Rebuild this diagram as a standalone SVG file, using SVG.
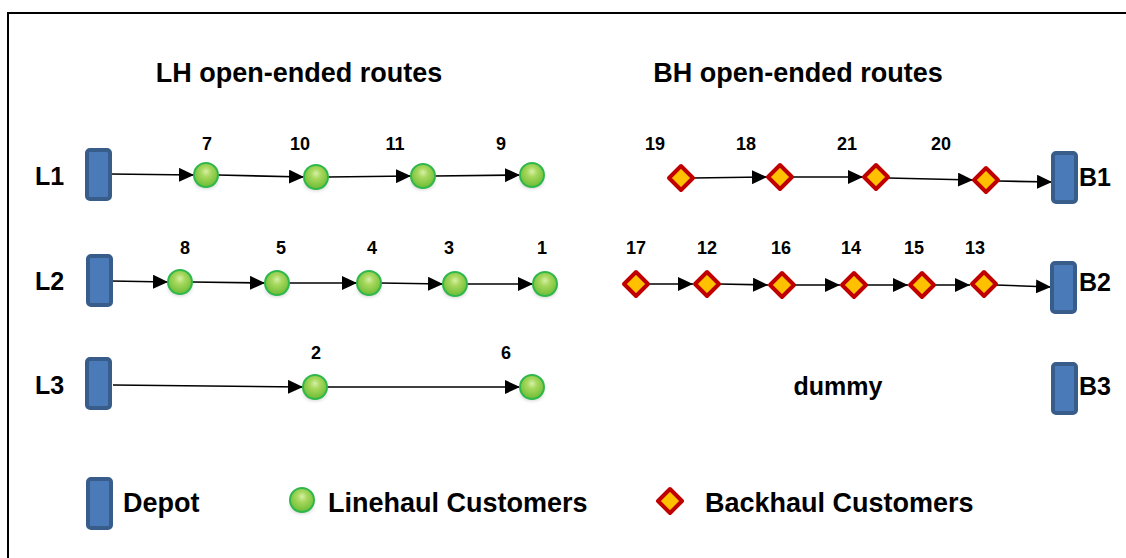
<svg xmlns="http://www.w3.org/2000/svg" width="1126" height="558" viewBox="0 0 1126 558">
<defs>
<marker id="ah" markerUnits="userSpaceOnUse" markerWidth="16" markerHeight="14" refX="15" refY="7" orient="auto">
<path d="M0,0 L15,7 L0,14 Z" fill="#000"/>
</marker>
<radialGradient id="g" cx="0.5" cy="0.4" r="0.6" fx="0.5" fy="0.35">
<stop offset="0" stop-color="#d6f0a8"/>
<stop offset="0.35" stop-color="#a8d85e"/>
<stop offset="1" stop-color="#6cbc34"/>
</radialGradient>
<filter id="sh" x="-50%" y="-50%" width="200%" height="200%">
<feGaussianBlur stdDeviation="2"/>
</filter>
<g id="cust">
<ellipse cx="0" cy="6" rx="11" ry="7" fill="#000" opacity="0.25" filter="url(#sh)"/>
<circle r="12" fill="url(#g)" stroke="#2eb84c" stroke-width="2"/>
</g>
<g id="bh">
<path d="M0,-12 L12,0 L0,12 L-12,0 Z" fill="#ffc000" stroke="#c00000" stroke-width="4" stroke-linejoin="round"/>
</g>
<g id="depot">
<rect x="0" y="0" width="23" height="49" rx="3" fill="#4a7ab8" stroke="#385d8a" stroke-width="4"/>
</g>
</defs>
<style>
.t{font-family:"Liberation Sans",Arial,sans-serif;font-weight:bold;fill:#000}
.title{font-size:27px;text-anchor:middle}
.row{font-size:25px}
.num{font-size:18px;text-anchor:middle}
.leg{font-size:27px}
.c{stroke:#000;stroke-width:1.6;fill:none;marker-end:url(#ah)}
</style>
<rect x="8" y="13" width="1130" height="560" fill="#fff" stroke="#000" stroke-width="2"/>

<text class="t title" x="299" y="82">LH open-ended routes</text>
<text class="t title" x="798" y="82">BH open-ended routes</text>

<g id="row-labels">
<text class="t row" x="35" y="185">L1</text>
<text class="t row" x="35" y="290">L2</text>
<text class="t row" x="35" y="394">L3</text>
<text class="t row" x="1079" y="186">B1</text>
<text class="t row" x="1079" y="291">B2</text>
<text class="t row" x="1079" y="395">B3</text>
<text class="t row" x="838" y="395" text-anchor="middle">dummy</text>
</g>

<g id="connectors">
<path class="c" d="M110,174 L194,175"/>
<path class="c" d="M218,175 L304,177"/>
<path class="c" d="M328,177 L411,176"/>
<path class="c" d="M435,176 L520,175"/>
<path class="c" d="M111,281 L168,282"/>
<path class="c" d="M192,282 L265,283"/>
<path class="c" d="M289,283 L357,283"/>
<path class="c" d="M381,283 L443,284"/>
<path class="c" d="M467,284 L533,284"/>
<path class="c" d="M113,385 L303,387"/>
<path class="c" d="M327,387 L520,387"/>
<path class="c" d="M693,178 L767,177"/>
<path class="c" d="M792,177 L863,177"/>
<path class="c" d="M888,178 L973,180"/>
<path class="c" d="M998,181 L1052,182"/>
<path class="c" d="M648,284 L693,284"/>
<path class="c" d="M719,284 L768,285"/>
<path class="c" d="M794,285 L840,285"/>
<path class="c" d="M866,285 L908,285"/>
<path class="c" d="M934,285 L970,285"/>
<path class="c" d="M996,285 L1051,287"/>
</g>

<g id="L1"><use href="#depot" x="87" y="150"/></g>
<g id="L2"><use href="#depot" x="88" y="256"/></g>
<g id="L3"><use href="#depot" x="87" y="359"/></g>
<g id="B1"><use href="#depot" x="1053" y="153"/></g>
<g id="B2"><use href="#depot" x="1052" y="263"/></g>
<g id="B3"><use href="#depot" x="1053" y="364"/></g>

<g id="n7"><use href="#cust" x="206" y="175"/><text class="t num" x="207" y="150">7</text></g>
<g id="n10"><use href="#cust" x="316" y="177"/><text class="t num" x="300" y="150">10</text></g>
<g id="n11"><use href="#cust" x="423" y="176"/><text class="t num" x="395" y="150">11</text></g>
<g id="n9"><use href="#cust" x="532" y="175"/><text class="t num" x="501" y="150">9</text></g>

<g id="n8"><use href="#cust" x="180" y="282"/><text class="t num" x="185" y="254">8</text></g>
<g id="n5"><use href="#cust" x="277" y="283"/><text class="t num" x="281" y="254">5</text></g>
<g id="n4"><use href="#cust" x="369" y="283"/><text class="t num" x="372" y="254">4</text></g>
<g id="n3"><use href="#cust" x="455" y="284"/><text class="t num" x="449" y="254">3</text></g>
<g id="n1"><use href="#cust" x="545" y="284"/><text class="t num" x="542" y="254">1</text></g>

<g id="n2"><use href="#cust" x="315" y="387"/><text class="t num" x="316" y="359">2</text></g>
<g id="n6"><use href="#cust" x="532" y="387"/><text class="t num" x="506" y="359">6</text></g>

<g id="n19"><use href="#bh" x="681" y="178"/><text class="t num" x="655" y="150">19</text></g>
<g id="n18"><use href="#bh" x="780" y="177"/><text class="t num" x="746" y="150">18</text></g>
<g id="n21"><use href="#bh" x="876" y="177"/><text class="t num" x="847" y="150">21</text></g>
<g id="n20"><use href="#bh" x="986" y="180"/><text class="t num" x="941" y="150">20</text></g>

<g id="n17"><use href="#bh" x="636" y="284"/><text class="t num" x="636" y="254">17</text></g>
<g id="n12"><use href="#bh" x="707" y="284"/><text class="t num" x="707" y="254">12</text></g>
<g id="n16"><use href="#bh" x="782" y="285"/><text class="t num" x="781" y="254">16</text></g>
<g id="n14"><use href="#bh" x="854" y="285"/><text class="t num" x="851" y="254">14</text></g>
<g id="n15"><use href="#bh" x="922" y="285"/><text class="t num" x="914" y="254">15</text></g>
<g id="n13"><use href="#bh" x="984" y="284"/><text class="t num" x="975" y="254">13</text></g>

<g id="legend">
<use href="#depot" x="88" y="479"/>
<text class="t leg" x="123" y="512">Depot</text>
<use href="#cust" x="302" y="500"/>
<text class="t leg" x="328" y="512">Linehaul Customers</text>
<use href="#bh" x="670" y="501"/>
<text class="t leg" x="705" y="512">Backhaul Customers</text>
</g>
</svg>
